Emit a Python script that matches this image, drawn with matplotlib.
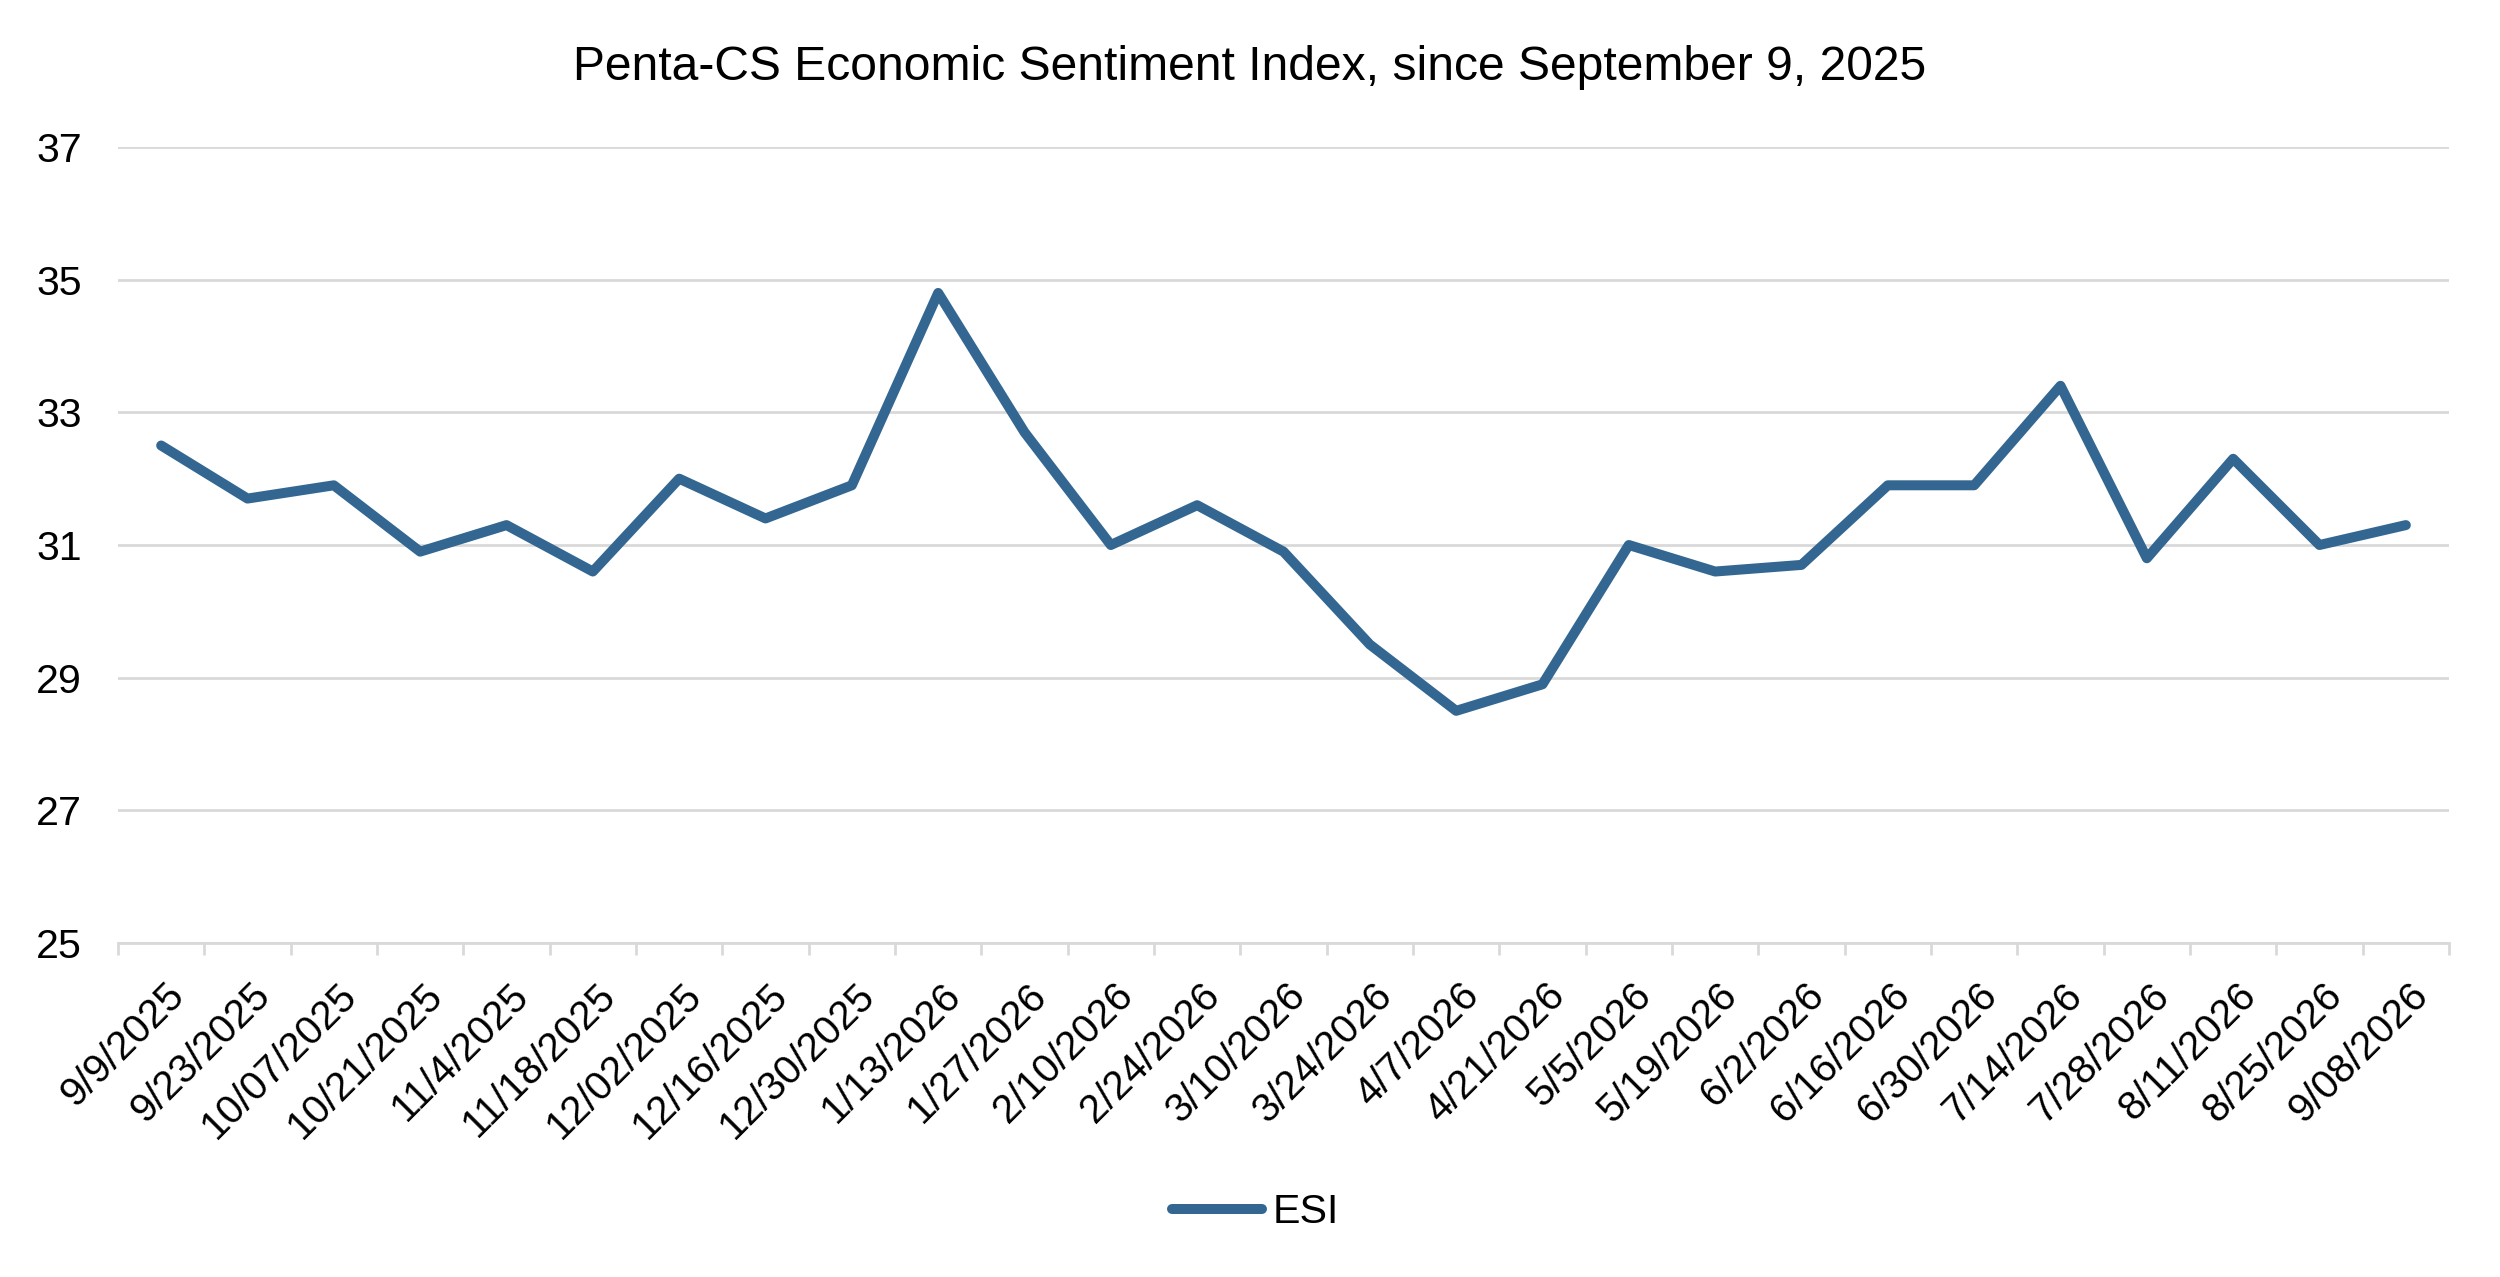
import matplotlib
matplotlib.use("Agg")
import matplotlib.pyplot as plt
import matplotlib.transforms as mtransforms
import numpy as np

dates = ["9/9/2025", "9/23/2025", "10/07/2025", "10/21/2025", "11/4/2025", "11/18/2025",
         "12/02/2025", "12/16/2025", "12/30/2025", "1/13/2026", "1/27/2026", "2/10/2026",
         "2/24/2026", "3/10/2026", "3/24/2026", "4/7/2026", "4/21/2026", "5/5/2026",
         "5/19/2026", "6/2/2026", "6/16/2026", "6/30/2026", "7/14/2026", "7/28/2026",
         "8/11/2026", "8/25/2026", "9/08/2026"]
esi = [32.5, 31.7, 31.9, 30.9, 31.3, 30.6, 32.0, 31.4, 31.9, 34.8, 32.7, 31.0,
       31.6, 30.9, 29.5, 28.5, 28.9, 31.0, 30.6, 30.7, 31.9, 31.9, 33.4, 30.8,
       32.3, 31.0, 31.3]
yticks = [25, 27, 29, 31, 33, 35, 37]
title = "Penta-CS Economic Sentiment Index, since September 9, 2025"
series_name = "ESI"

plt.rcParams['font.family'] = ['Liberation Sans', 'DejaVu Sans']
FS = 14.8
FS_X = 14.5
FS_T = 17.3
DPI = 200
W, H = 2500, 1277

fig = plt.figure(figsize=(W / DPI, H / DPI), dpi=DPI)
left, right = 118 / W, 2449 / W
top, bottom = 1 - 147 / H, 1 - 943 / H
ax = fig.add_axes([left, bottom, right - left, top - bottom])

x = np.arange(len(dates))
line_color = '#336791'
grid_color = '#D9D9D9'

ax.plot(x, esi, color=line_color, lw=3.6, solid_joinstyle='round',
        solid_capstyle='round', label=series_name, zorder=3)

ax.set_xlim(-0.5, len(dates) - 0.5)
ax.set_ylim(yticks[0], yticks[-1])
ax.set_yticks(yticks)
ax.set_yticklabels([str(v) for v in yticks], fontsize=FS)
ax.yaxis.grid(True, color=grid_color, lw=1.0)
ax.set_axisbelow(True)

for s in ['top', 'right', 'left']:
    ax.spines[s].set_visible(False)
ax.spines['bottom'].set_color(grid_color)
ax.spines['bottom'].set_linewidth(1.0)

ax.tick_params(axis='y', length=0, pad=13)
ax.set_xticks(x)
ax.set_xticks(np.arange(-0.5, len(dates), 1.0), minor=True)
ax.tick_params(axis='x', which='major', length=0, pad=12)
ax.tick_params(axis='x', which='minor', length=4.4, width=1.0, color=grid_color)
labels = ax.set_xticklabels(dates, fontsize=FS_X, rotation=45, ha='right', va='top',
                            rotation_mode='anchor')
offset = mtransforms.ScaledTranslation(3 / DPI, 0, fig.dpi_scale_trans)
for lab in labels:
    lab.set_transform(lab.get_transform() + offset)

fig.text(0.5, 1 - 67 / H, title, ha='center', va='center', fontsize=FS_T)

fig.legend(loc='center', bbox_to_anchor=(0.5022, 1 - 1212 / H), frameon=False,
           fontsize=FS, handlelength=2.2, handletextpad=0.25)

fig.savefig("out.png", dpi=DPI)
